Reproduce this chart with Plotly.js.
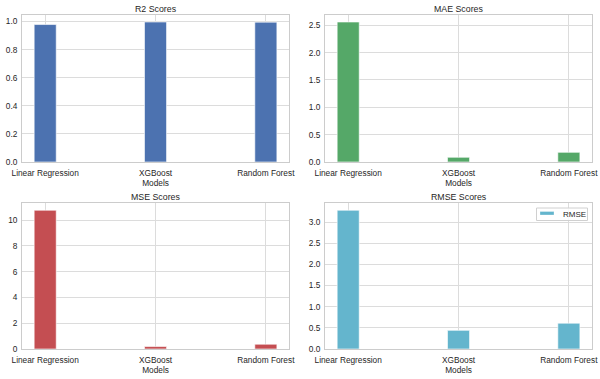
<!DOCTYPE html>
<html><head><meta charset="utf-8">
<script src="https://cdn.plot.ly/plotly-3.0.1.min.js"></script>
<style>html,body{margin:0;padding:0;background:#fff}#chart{width:600px;height:379px}</style>
</head><body><div id="chart"></div>
<script>
const models = ["Linear Regression", "XGBoost", "Random Forest"];
const r2 = [0.979, 0.997, 0.996];
const mae = [2.56, 0.086, 0.177];
const mse = [10.76, 0.19, 0.37];
const rmse = [3.28, 0.44, 0.61];
const titles = ["R2 Scores", "MAE Scores", "MSE Scores", "RMSE Scores"];
const legendLabel = "RMSE";
const colors = ["#4C72B0", "#55A868", "#C44E52", "#64B5CD"];
const series = [r2, mae, mse, rmse];
const dtick = [0.2, 0.5, 2, 0.5];
const fmt = [".1f", ".1f", "d", ".1f"];

const W = 600, H = 379;
const xdom = [[0.0367, 0.4817], [0.5417, 0.9867]];
const ydom = [[0.5726, 0.9604], [0.0792, 0.4636]];
const font = {family: "Liberation Sans, Arial, sans-serif", size: 8.3, color: "#262626"};

const data = [];
const layout = {
  width: W, height: H,
  margin: {l: 0, r: 0, t: 0, b: 0},
  paper_bgcolor: "#fff", plot_bgcolor: "#fff",
  font: font, showlegend: false, bargap: 0,
  annotations: [], shapes: []
};

for (let i = 0; i < 4; i++) {
  const ax = i === 0 ? "" : String(i + 1);
  const col = i % 2, row = Math.floor(i / 2);
  data.push({
    type: "bar", x: models, y: series[i], width: 0.2,
    xaxis: "x" + ax, yaxis: "y" + ax,
    name: i === 3 ? legendLabel : titles[i],
    marker: {color: colors[i], line: {color: "rgba(255,255,255,0.6)", width: 1}},
    hoverinfo: "x+y"
  });
  const ymax = Math.max(...series[i]) * 1.05;
  layout["xaxis" + ax] = {
    domain: xdom[col], anchor: "y" + ax, type: "category",
    range: [-0.21, 2.21], showgrid: true, gridcolor: "#dcdcdc", gridwidth: 1,
    showline: true, mirror: true, linecolor: "#cccccc", linewidth: 1,
    ticks: "", tickfont: font, zeroline: false, ticklabelstandoff: 3,
    title: {text: "Models", font: font, standoff: 3}
  };
  layout["yaxis" + ax] = {
    domain: ydom[row], anchor: "x" + ax,
    range: [0, ymax], dtick: dtick[i], tick0: 0, tickformat: fmt[i],
    showgrid: true, gridcolor: "#dcdcdc", gridwidth: 1,
    showline: true, mirror: true, linecolor: "#cccccc", linewidth: 1,
    ticks: "", tickfont: font, zeroline: false, ticklabelstandoff: 2
  };
  layout.annotations.push({
    text: titles[i], xref: "paper", yref: "paper",
    x: (xdom[col][0] + xdom[col][1]) / 2, y: ydom[row][1],
    xanchor: "center", yanchor: "bottom", yshift: -1, showarrow: false,
    font: {family: font.family, size: 8.8, color: "#262626"}
  });
}

// legend box for the RMSE panel (matplotlib-style)
const px = v => v / W, py = v => 1 - v / H;
layout.shapes.push({type: "rect", xref: "paper", yref: "paper",
  x0: px(536.5), x1: px(587.5), y0: py(220.5), y1: py(208),
  fillcolor: "rgba(255,255,255,0.85)", line: {color: "#d0d0d0", width: 1}, layer: "above"});
layout.shapes.push({type: "rect", xref: "paper", yref: "paper",
  x0: px(540), x1: px(554), y0: py(215), y1: py(211.5),
  fillcolor: colors[3], line: {color: "rgba(255,255,255,0.6)", width: 0.5}, layer: "above"});
layout.annotations.push({text: legendLabel, xref: "paper", yref: "paper",
  x: px(561), y: py(214.3), xanchor: "left", yanchor: "middle", showarrow: false,
  font: {family: font.family, size: 8, color: "#262626"}});

Plotly.newPlot("chart", data, layout, {displayModeBar: false, staticPlot: true});
</script>
</body></html>
